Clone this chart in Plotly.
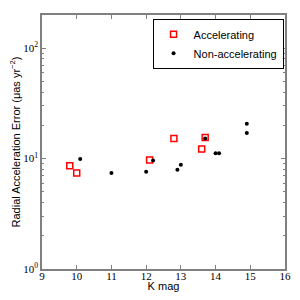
import plotly.graph_objects as go

acc_k = [9.8, 10.0, 12.1, 12.8, 13.6, 13.7]
acc_err = [8.6, 7.4, 9.7, 15.2, 12.2, 15.5]
non_k = [10.1, 11.0, 12.0, 12.2, 12.9, 13.0, 13.7, 14.0, 14.1, 14.9, 14.9]
non_err = [9.9, 7.4, 7.6, 9.6, 7.9, 8.8, 15.2, 11.2, 11.2, 20.7, 17.0]

x_ticks = [9, 10, 11, 12, 13, 14, 15, 16]
y_ticks = [1, 10, 100]
y_ticktext = ["10<sup>0</sup>", "10<sup>1</sup>", "10<sup>2</sup>"]
y_minor = [m * d for d in (1, 10, 100) for m in range(2, 10) if m * d <= 200]

fig = go.Figure()
fig.add_trace(go.Scatter(
    x=acc_k, y=acc_err, mode="markers", name="Accelerating",
    marker=dict(symbol="square-open", size=6, color="red", line=dict(width=1.5, color="red")),
))
fig.add_trace(go.Scatter(
    x=non_k, y=non_err, mode="markers", name="Non-accelerating",
    marker=dict(symbol="circle", size=4, color="black"),
))

axis_common = dict(
    showline=True, linecolor="#808080", linewidth=1.5, mirror="allticks",
    ticks="inside", tickcolor="#808080", showgrid=False, zeroline=False,
    tickfont=dict(family="Liberation Serif", size=11, color="black"),
)

fig.update_xaxes(
    range=[9, 16], tickvals=x_ticks, ticklen=4, ticklabelstandoff=-4,
    title=dict(text="K mag", font=dict(family="Liberation Sans", size=11, color="black")),
    **axis_common,
)
fig.update_yaxes(
    type="log", range=[0, 2.3], tickvals=y_ticks, ticktext=y_ticktext, ticklen=4,
    minor=dict(tickvals=y_minor, ticks="inside", ticklen=2, tickcolor="#808080", showgrid=False),
    title=dict(text="Radial Acceleration Error (μas yr<sup>−2</sup>)",
               font=dict(family="Liberation Sans", size=11, color="black")),
    **axis_common,
)

# page body has an 8px margin, so the figure is 284x284 placed at (8, 8)
fig.update_layout(
    width=284, height=284, autosize=False,
    margin=dict(l=34, r=7, t=7, b=23, autoexpand=False),
    paper_bgcolor="white", plot_bgcolor="white",
    legend=dict(
        x=0.455, y=0.985, xanchor="left", yanchor="top",
        bordercolor="black", borderwidth=1, bgcolor="white",
        font=dict(family="Liberation Sans", size=11, color="black"),
        itemwidth=30, tracegroupgap=0,
    ),
)

fig.write_html("out.html")
